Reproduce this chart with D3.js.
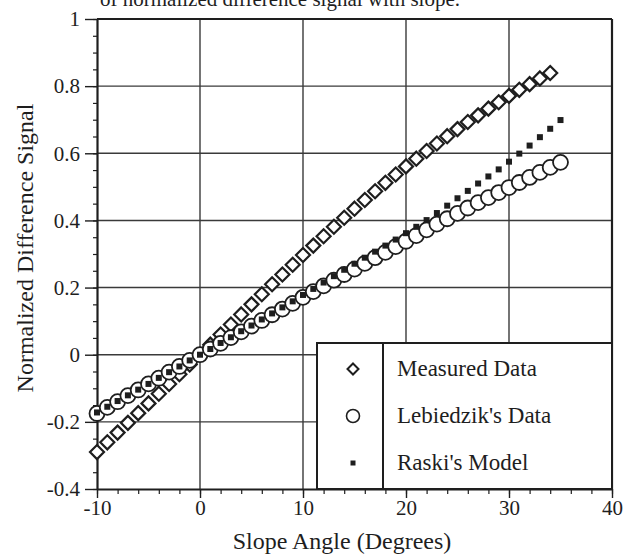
<!DOCTYPE html>
<html>
<head>
<meta charset="utf-8">
<script src="https://cdn.jsdelivr.net/npm/d3@7"></script>
<style>
  html, body { margin: 0; padding: 0; background: #fff; }
  svg { display: block; font-family: "Liberation Serif", "Times New Roman", serif; }
</style>
</head>
<body>
<svg id="chart" width="635" height="559"></svg>
<script>
// ---- data ----
const measuredX = [-10,-9,-8,-7,-6,-5,-4,-3,-2,-1,0,1,2,3,4,5,6,7,8,9,10,11,12,13,14,15,16,17,18,19,20,21,22,23,24,25,26,27,28,29,30,31,32,33,34];
const measuredY = [-0.290,-0.261,-0.232,-0.203,-0.174,-0.145,-0.116,-0.087,-0.058,-0.029,0.000,0.030,0.060,0.090,0.120,0.150,0.180,0.210,0.239,0.268,0.297,0.325,0.353,0.381,0.408,0.435,0.461,0.487,0.512,0.537,0.561,0.584,0.607,0.629,0.651,0.672,0.693,0.713,0.733,0.752,0.771,0.789,0.806,0.823,0.839];

const lebiedzikX = [-10,-9,-8,-7,-6,-5,-4,-3,-2,-1,0,1,2,3,4,5,6,7,8,9,10,11,12,13,14,15,16,17,18,19,20,21,22,23,24,25,26,27,28,29,30,31,32,33,34,35];
const lebiedzikY = [-0.175,-0.157,-0.140,-0.122,-0.105,-0.087,-0.070,-0.052,-0.035,-0.017,0.000,0.017,0.034,0.051,0.068,0.085,0.102,0.119,0.136,0.153,0.171,0.188,0.205,0.222,0.239,0.255,0.272,0.289,0.305,0.322,0.338,0.355,0.372,0.389,0.405,0.421,0.437,0.453,0.468,0.483,0.498,0.513,0.528,0.543,0.558,0.573];

const raskiX = [-10,-9,-8,-7,-6,-5,-4,-3,-2,-1,0,1,2,3,4,5,6,7,8,9,10,11,12,13,14,15,16,17,18,19,20,21,22,23,24,25,26,27,28,29,30,31,32,33,34,35];
const raskiY = [-0.172,-0.155,-0.138,-0.121,-0.104,-0.087,-0.069,-0.052,-0.035,-0.017,0.000,0.017,0.035,0.052,0.070,0.087,0.105,0.123,0.141,0.159,0.178,0.196,0.215,0.234,0.253,0.271,0.289,0.307,0.325,0.343,0.362,0.381,0.401,0.422,0.444,0.466,0.488,0.510,0.531,0.552,0.575,0.599,0.623,0.648,0.673,0.699];

const xTickValues = [-10, 0, 10, 20, 30, 40];
const xTickLabels = ["-10", "0", "10", "20", "30", "40"];
const yTickValues = [-0.4, -0.2, 0, 0.2, 0.4, 0.6, 0.8, 1];
const yTickLabels = ["-0.4", "-0.2", "0", "0.2", "0.4", "0.6", "0.8", "1"];
const xMinorTicks = d3.range(-10, 40.01, 2);
const yMinorTicks = d3.range(-0.4, 1.001, 0.05).map(v => +v.toFixed(2));

const legendLabels = ["Measured Data", "Lebiedzik's Data", "Raski's Model"];
const titleText = "of normalized difference signal with slope.";
const xTitle = "Slope Angle (Degrees)";
const yTitle = "Normalized Difference Signal";

// ---- layout ----
const ink = "#1e1e1e";
const pL = 97, pR = 612, pT = 19, pB = 489;
const svg = d3.select("#chart");

const x = d3.scaleLinear().domain([-10, 40]).range([pL, pR]);
const y = d3.scaleLinear().domain([-0.4, 1]).range([pB, pT]);

// caption at top (cut off by the page edge, as in the source image)
svg.append("text").attr("x", 100).attr("y", 6)
  .attr("font-size", 21).attr("fill", ink).text(titleText);

// gridlines
const grid = svg.append("g").attr("stroke", "#3a3a3a").attr("stroke-width", 1.4);
grid.selectAll("line.v").data([0, 10, 20, 30]).join("line").attr("class", "v")
  .attr("x1", d => x(d)).attr("x2", d => x(d)).attr("y1", pT).attr("y2", pB);
grid.selectAll("line.h").data([-0.2, 0, 0.2, 0.4, 0.6, 0.8]).join("line").attr("class", "h")
  .attr("x1", pL).attr("x2", pR).attr("y1", d => y(d)).attr("y2", d => y(d));

// frame (top and right)
svg.append("line").attr("x1", pL).attr("x2", pR).attr("y1", pT).attr("y2", pT)
  .attr("stroke", ink).attr("stroke-width", 2);
svg.append("line").attr("x1", pR).attr("x2", pR).attr("y1", pT).attr("y2", pB)
  .attr("stroke", ink).attr("stroke-width", 2.2);

// axes
function styleAxis(g) {
  g.select(".domain").attr("stroke", ink).attr("stroke-width", 2.2);
  g.selectAll(".tick line").attr("stroke", ink).attr("stroke-width", 1.4);
  g.selectAll(".tick text").attr("fill", ink).attr("font-size", 21)
    .attr("font-family", "Liberation Serif, Times New Roman, serif");
}

svg.append("g").attr("transform", `translate(0,${pB})`)
  .call(d3.axisBottom(x).tickValues(xMinorTicks).tickSize(5).tickFormat(""))
  .call(g => { g.select(".domain").remove(); g.selectAll(".tick line").attr("stroke", ink).attr("stroke-width", 1.2); });
svg.append("g").attr("transform", `translate(${pL},0)`)
  .call(d3.axisLeft(y).tickValues(yMinorTicks).tickSize(4).tickFormat(""))
  .call(g => { g.select(".domain").remove(); g.selectAll(".tick line").attr("stroke", ink).attr("stroke-width", 1.2); });

svg.append("g").attr("transform", `translate(0,${pB})`)
  .call(d3.axisBottom(x).tickValues(xTickValues).tickSize(9).tickSizeOuter(0).tickPadding(2)
    .tickFormat((d, i) => xTickLabels[i]))
  .call(styleAxis);
svg.append("g").attr("transform", `translate(${pL},0)`)
  .call(d3.axisLeft(y).tickValues(yTickValues).tickSize(12).tickSizeOuter(0).tickPadding(5)
    .tickFormat((d, i) => yTickLabels[i]))
  .call(styleAxis);

// axis titles
svg.append("text").attr("x", 342).attr("y", 549).attr("text-anchor", "middle")
  .attr("font-size", 24).attr("fill", ink).text(xTitle);
svg.append("text").attr("transform", "translate(33,248) rotate(-90)").attr("text-anchor", "middle")
  .attr("font-size", 24).attr("fill", ink).text(yTitle);

// symbols
const diamond = s => `M0,${-s}L${s},0L0,${s}L${-s},0Z`;
const pts = (xs, ys) => xs.map((d, i) => ({ x: d, y: ys[i] }));

svg.append("g").selectAll("path").data(pts(measuredX, measuredY)).join("path")
  .attr("transform", d => `translate(${x(d.x)},${y(d.y)})`)
  .attr("d", diamond(7)).attr("fill", "#fff").attr("stroke", ink).attr("stroke-width", 2.2);

svg.append("g").selectAll("circle").data(pts(lebiedzikX, lebiedzikY)).join("circle")
  .attr("cx", d => x(d.x)).attr("cy", d => y(d.y)).attr("r", 7.5)
  .attr("fill", "#fff").attr("stroke", ink).attr("stroke-width", 1.8);

svg.append("g").selectAll("rect").data(pts(raskiX, raskiY)).join("rect")
  .attr("x", d => x(d.x) - 3).attr("y", d => y(d.y) - 3).attr("width", 6).attr("height", 6)
  .attr("fill", ink);

// legend
const lg = svg.append("g");
lg.append("rect").attr("x", 317).attr("y", 343).attr("width", pR - 317).attr("height", pB - 343)
  .attr("fill", "#fff").attr("stroke", ink).attr("stroke-width", 2);
lg.append("line").attr("x1", 383).attr("x2", 383).attr("y1", 343).attr("y2", pB)
  .attr("stroke", ink).attr("stroke-width", 2);
const rowsY = [369, 416, 463];
lg.append("path").attr("transform", `translate(353,${rowsY[0]})`).attr("d", diamond(5.5))
  .attr("fill", "#fff").attr("stroke", ink).attr("stroke-width", 2);
lg.append("circle").attr("cx", 353).attr("cy", rowsY[1]).attr("r", 6.5)
  .attr("fill", "#fff").attr("stroke", ink).attr("stroke-width", 1.6);
lg.append("rect").attr("x", 350.5).attr("y", rowsY[2] - 2.5).attr("width", 5).attr("height", 5).attr("fill", ink);
lg.selectAll("text").data(legendLabels).join("text")
  .attr("x", 397).attr("y", (d, i) => rowsY[i] + 7)
  .attr("font-size", 23).attr("fill", ink).text(d => d);
</script>
</body>
</html>
